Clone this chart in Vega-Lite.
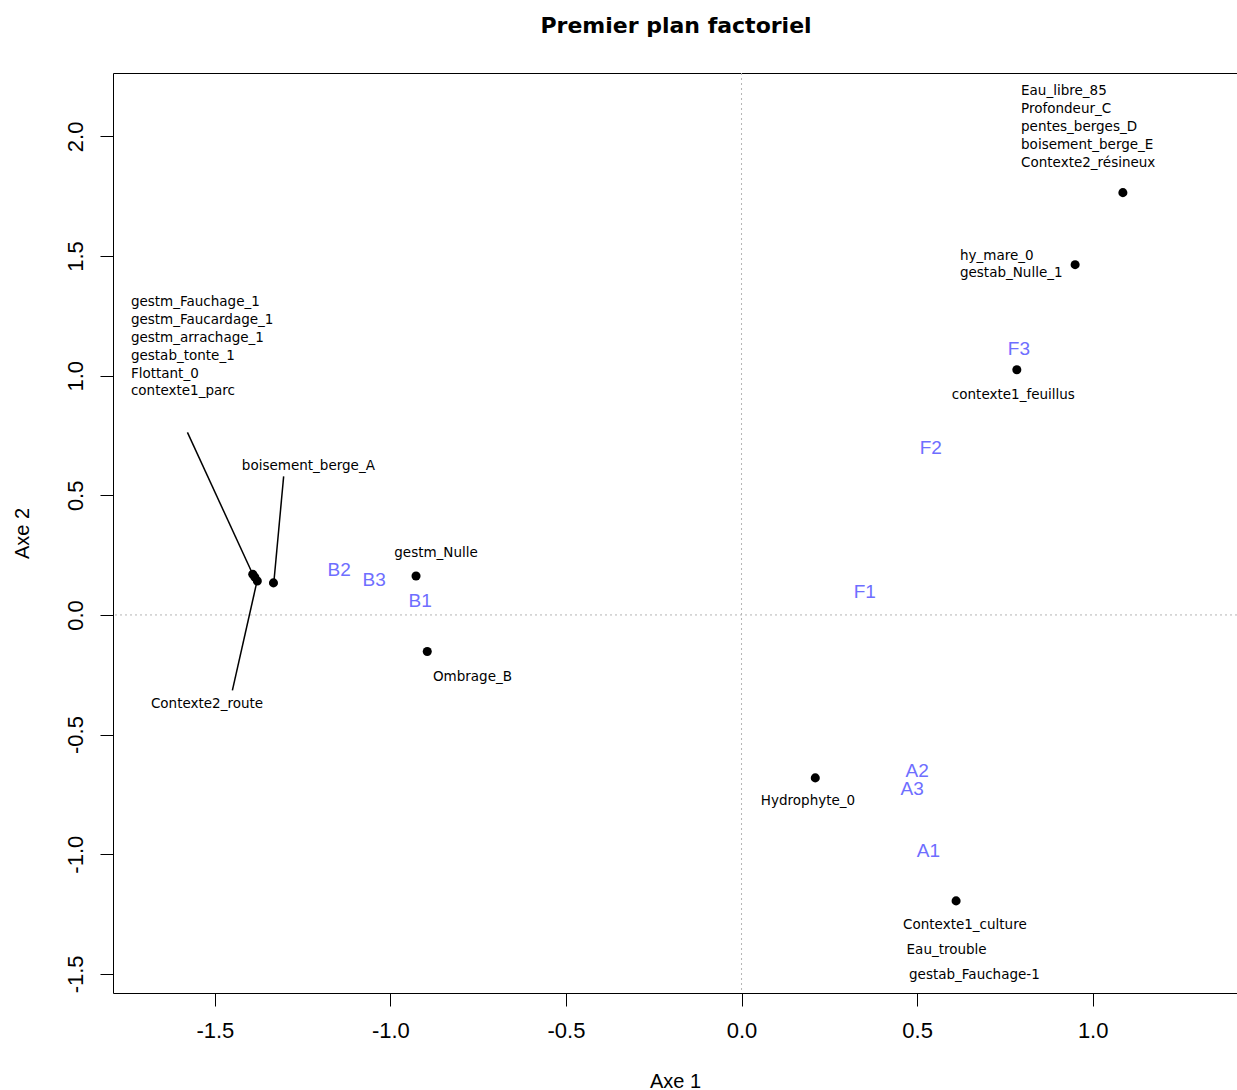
{
  "$schema": "https://vega.github.io/schema/vega-lite/v6.json",
  "width": 1124,
  "height": 920,
  "autosize": {"type": "none"},
  "padding": {"left": 113, "top": 73, "right": 0, "bottom": 97},
  "background": "white",
  "title": {
    "text": "Premier plan factoriel",
    "font": "DejaVu Sans",
    "fontSize": 22,
    "fontWeight": "bold",
    "color": "black",
    "anchor": "middle",
    "frame": "group",
    "baseline": "alphabetic",
    "offset": 18,
    "dx": 1
  },
  "config": {
    "view": {"stroke": null},
    "axis": {
      "grid": false,
      "domainColor": "black",
      "domainWidth": 1,
      "tickColor": "black",
      "tickWidth": 1,
      "tickSize": 13,
      "labelColor": "black",
      "titleColor": "black",
      "labelFont": "Liberation Sans",
      "labelFontSize": 22,
      "titleFont": "Liberation Sans",
      "titleFontSize": 20,
      "titleFontWeight": "normal"
    }
  },
  "resolve": {"axis": {"x": "independent", "y": "independent"}},
  "layer": [
    {
      "data": {"values": [{"x": 0}]},
      "mark": {"type": "rule", "color": "#b4b4b4", "strokeDash": [2, 3], "strokeWidth": 1},
      "encoding": {
        "x": {
          "field": "x",
          "type": "quantitative",
          "scale": {"domain": [-1.79, 1.411], "nice": false, "zero": false},
          "axis": {
            "orient": "bottom",
            "values": [-1.5, -1, -0.5, 0, 0.5, 1],
            "labelExpr": "replace(format(datum.value, '.1f'), '\u2212', '-')",
            "labelPadding": 14,
            "labelBaseline": "top",
            "title": "Axe 1",
            "titleAnchor": "middle",
            "titleBaseline": "alphabetic",
            "titleY": 94
          }
        }
      }
    },
    {
      "data": {"values": [{"y": 0}]},
      "mark": {"type": "rule", "color": "#b4b4b4", "strokeDash": [2, 3], "strokeWidth": 1},
      "encoding": {
        "y": {
          "field": "y",
          "type": "quantitative",
          "scale": {"domain": [-1.58, 2.265], "nice": false, "zero": false},
          "axis": {
            "orient": "left",
            "values": [-1.5, -1, -0.5, 0, 0.5, 1, 1.5, 2],
            "labelExpr": "replace(format(datum.value, '.1f'), '\u2212', '-')",
            "labelAngle": 270,
            "labelAlign": "center",
            "labelBaseline": "alphabetic",
            "labelPadding": 18,
            "title": "Axe 2",
            "titleAngle": 270,
            "titleAlign": "center",
            "titleBaseline": "alphabetic",
            "titleX": -85,
            "titleY": 460
          }
        }
      }
    },
    {
      "data": {
        "values": [
          {"x": -1.578, "y": 0.763, "x2": -1.392, "y2": 0.170},
          {"x": -1.304, "y": 0.579, "x2": -1.332, "y2": 0.135},
          {"x": -1.450, "y": -0.315, "x2": -1.380, "y2": 0.140}
        ]
      },
      "mark": {"type": "rule", "color": "black", "strokeWidth": 1.5},
      "encoding": {
        "x": {
          "field": "x",
          "type": "quantitative",
          "axis": {"orient": "top", "labels": false, "ticks": false, "title": null, "domain": true}
        },
        "y": {"field": "y", "type": "quantitative", "axis": null},
        "x2": {"field": "x2"},
        "y2": {"field": "y2"}
      }
    },
    {
      "data": {
        "values": [
          {"x": 1.086, "y": 1.765},
          {"x": 0.950, "y": 1.464},
          {"x": 0.784, "y": 1.025},
          {"x": -0.927, "y": 0.163},
          {"x": -0.895, "y": -0.153},
          {"x": 0.210, "y": -0.681},
          {"x": 0.611, "y": -1.195},
          {"x": -1.392, "y": 0.170},
          {"x": -1.386, "y": 0.158},
          {"x": -1.379, "y": 0.142},
          {"x": -1.333, "y": 0.134}
        ]
      },
      "mark": {"type": "circle", "color": "black", "opacity": 1, "size": 82},
      "encoding": {
        "x": {"field": "x", "type": "quantitative", "axis": null},
        "y": {"field": "y", "type": "quantitative", "axis": null}
      }
    },
    {
      "data": {
        "values": [
          {"x": 0.796, "y": 2.191, "label": "Eau_libre_85"},
          {"x": 0.796, "y": 2.116, "label": "Profondeur_C"},
          {"x": 0.796, "y": 2.041, "label": "pentes_berges_D"},
          {"x": 0.796, "y": 1.965, "label": "boisement_berge_E"},
          {"x": 0.796, "y": 1.890, "label": "Contexte2_résineux"},
          {"x": 0.622, "y": 1.502, "label": "hy_mare_0"},
          {"x": 0.622, "y": 1.429, "label": "gestab_Nulle_1"},
          {"x": 0.599, "y": 0.921, "label": "contexte1_feuillus"},
          {"x": -1.739, "y": 1.308, "label": "gestm_Fauchage_1"},
          {"x": -1.739, "y": 1.233, "label": "gestm_Faucardage_1"},
          {"x": -1.739, "y": 1.158, "label": "gestm_arrachage_1"},
          {"x": -1.739, "y": 1.084, "label": "gestab_tonte_1"},
          {"x": -1.739, "y": 1.009, "label": "Flottant_0"},
          {"x": -1.739, "y": 0.934, "label": "contexte1_parc"},
          {"x": -1.423, "y": 0.624, "label": "boisement_berge_A"},
          {"x": -0.989, "y": 0.259, "label": "gestm_Nulle"},
          {"x": -0.879, "y": -0.261, "label": "Ombrage_B"},
          {"x": -1.682, "y": -0.372, "label": "Contexte2_route"},
          {"x": 0.055, "y": -0.777, "label": "Hydrophyte_0"},
          {"x": 0.460, "y": -1.294, "label": "Contexte1_culture"},
          {"x": 0.470, "y": -1.399, "label": "Eau_trouble"},
          {"x": 0.477, "y": -1.503, "label": "gestab_Fauchage-1"}
        ]
      },
      "mark": {
        "type": "text",
        "align": "left",
        "baseline": "middle",
        "font": "DejaVu Sans",
        "fontSize": 13.5,
        "color": "black"
      },
      "encoding": {
        "x": {"field": "x", "type": "quantitative", "axis": null},
        "y": {"field": "y", "type": "quantitative", "axis": null},
        "text": {"field": "label"}
      }
    },
    {
      "data": {
        "values": [
          {"x": 0.790, "y": 1.113, "label": "F3"},
          {"x": 0.539, "y": 0.697, "label": "F2"},
          {"x": 0.351, "y": 0.097, "label": "F1"},
          {"x": -1.146, "y": 0.186, "label": "B2"},
          {"x": -1.046, "y": 0.145, "label": "B3"},
          {"x": -0.915, "y": 0.057, "label": "B1"},
          {"x": 0.500, "y": -0.654, "label": "A2"},
          {"x": 0.486, "y": -0.727, "label": "A3"},
          {"x": 0.532, "y": -0.988, "label": "A1"}
        ]
      },
      "mark": {
        "type": "text",
        "align": "center",
        "baseline": "middle",
        "font": "Liberation Sans",
        "fontSize": 19,
        "color": "#6e6eff"
      },
      "encoding": {
        "x": {"field": "x", "type": "quantitative", "axis": null},
        "y": {"field": "y", "type": "quantitative", "axis": null},
        "text": {"field": "label"}
      }
    }
  ]
}
